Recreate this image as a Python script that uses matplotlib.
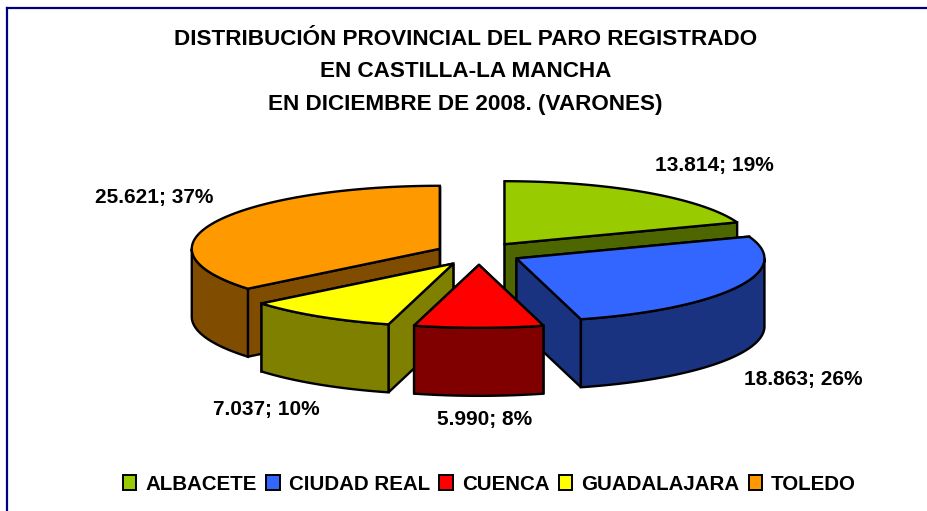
import numpy as np
import matplotlib
matplotlib.use('Agg')
import matplotlib.pyplot as plt
from matplotlib.colors import to_rgb
from matplotlib.lines import Line2D
from matplotlib.patches import Polygon, Patch

provinces = ['ALBACETE', 'CIUDAD REAL', 'CUENCA', 'GUADALAJARA', 'TOLEDO']
values = [13814, 18863, 5990, 7037, 25621]
labels = ['13.814; 19%', '18.863; 26%', '5.990; 8%', '7.037; 10%', '25.621; 37%']
colors = ['#99CC00', '#3366FF', '#FF0000', '#FFFF00', '#FF9900']

title_lines = ['DISTRIBUCIÓN PROVINCIAL DEL PARO REGISTRADO',
               'EN CASTILLA-LA MANCHA',
               'EN DICIEMBRE DE 2008. (VARONES)']

plt.rcParams['font.family'] = ['Liberation Sans', 'DejaVu Sans']

# axes in pixels so the layout can be compared with the reference directly
fig = plt.figure(figsize=(9.27, 5.11), dpi=100)
ax = fig.add_axes([0, 0, 1, 1])
ax.set_xlim(0, 927)
ax.set_ylim(511, 0)
ax.axis('off')

# pie geometry
cx, cy = 479, 253.5
rx, ry = 248, 63
depth = 68
explode = [0.18, 0.17, 0.18, 0.19, 0.175]
edge = 1.7


def shade(c):
    return tuple(v * 0.5 for v in to_rgb(c))


def arc(x0, y0, t0, t1):
    t = np.radians(np.linspace(t0, t1, 120))
    return np.column_stack([x0 + rx * np.sin(t), y0 - ry * np.cos(t)])


# slice angles, clockwise from 12 o'clock
fracs = np.array(values) / np.sum(values)
ends = np.cumsum(fracs) * 360
starts = ends - fracs * 360

# back slices first, red in front
for i in [0, 4, 3, 1, 2]:
    t0, t1 = starts[i], ends[i]
    mid = np.radians((t0 + t1) / 2)
    x0 = cx + explode[i] * rx * np.sin(mid)
    y0 = cy - explode[i] * ry * np.cos(mid)
    dark = shade(colors[i])
    down = np.array([0, depth])
    apex = np.array([x0, y0])

    # cut faces, the one nearer the viewer last
    for t in sorted((t0, t1), key=lambda a: -np.cos(np.radians(a))):
        p = arc(x0, y0, t, t)[0]
        face = [apex, p, p + down, apex + down]
        ax.add_patch(Polygon(face, closed=True, fc=dark, ec='black', lw=edge))

    # outer wall, only the part facing the viewer
    v0, v1 = max(t0, 90), min(t1, 270)
    if v1 > v0:
        rim = arc(x0, y0, v0, v1)
        wall = np.vstack([rim, rim[::-1] + down])
        ax.add_patch(Polygon(wall, closed=True, fc=dark, ec='black', lw=edge))

    # top
    top = np.vstack([apex, arc(x0, y0, t0, t1)])
    ax.add_patch(Polygon(top, closed=True, fc=colors[i], ec='black', lw=edge))

# data labels
label_pos = [(714, 165), (803, 379), (485, 420), (266, 409), (154, 197)]
for s, (x, y) in zip(labels, label_pos):
    ax.text(x, y, s, fontsize=15, fontweight='bold', ha='center', va='center')

# title
for s, y in zip(title_lines, [39.5, 71.5, 104.5]):
    ax.text(465.5, y, s, fontsize=16.2, fontweight='bold', ha='center', va='center')

# legend
handles = [Patch(fc=c, ec='black', lw=1.4) for c in colors]
leg = ax.legend(handles, provinces, ncol=5, loc='center', bbox_to_anchor=(489.5, 484.5),
                bbox_transform=ax.transData, frameon=False,
                prop={'size': 14.8, 'weight': 'bold'},
                handlelength=0.65, handleheight=0.75, handletextpad=0.45,
                columnspacing=0.45, borderpad=0, borderaxespad=0)

# chart frame
ax.add_line(Line2D([7, 7], [511, 8], color='#000080', lw=1.6))
ax.add_line(Line2D([7, 927], [8, 8], color='#000080', lw=1.6))

plt.savefig('out.png', dpi=100)
